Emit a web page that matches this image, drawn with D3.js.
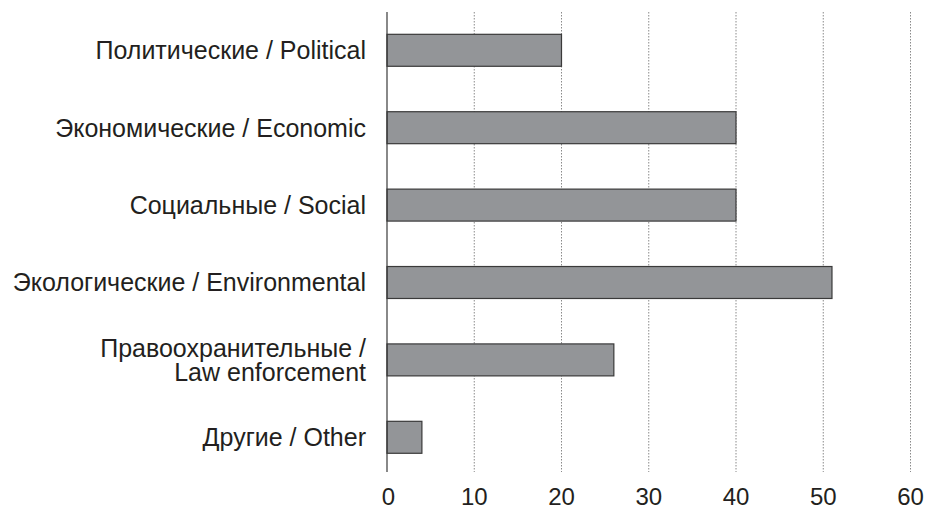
<!DOCTYPE html>
<html>
<head>
<meta charset="utf-8">
<script src="https://cdn.jsdelivr.net/npm/d3@7"></script>
<style>
  html, body { margin: 0; padding: 0; background: #fff; }
  svg { display: block; }
</style>
</head>
<body>
<svg id="chart" width="928" height="505"></svg>
<script>
const categories = [
  ["Политические / Political"],
  ["Экономические / Economic"],
  ["Социальные / Social"],
  ["Экологические / Environmental"],
  ["Правоохранительные /", "Law enforcement"],
  ["Другие / Other"]
];
const values = [20, 40, 40, 51, 26, 4];
const tickValues = [0, 10, 20, 30, 40, 50, 60];

const svg = d3.select("#chart");
const x0 = 387, x1 = 910.5;
const yTop = 12, yBottom = 472;

const x = d3.scaleLinear().domain([0, 60]).range([x0, x1]);
const y = d3.scaleBand().domain(d3.range(categories.length)).range([11.6, 476]).paddingInner(0.587).paddingOuter(0.2935);

// gridlines
svg.append("g").selectAll("line").data(tickValues.slice(1)).join("line")
  .attr("x1", d => x(d)).attr("x2", d => x(d))
  .attr("y1", yTop).attr("y2", yBottom)
  .attr("stroke", "#8a8a8a").attr("stroke-width", 1)
  .attr("stroke-dasharray", "1.5,1.5");

// bars
svg.append("g").selectAll("rect").data(values).join("rect")
  .attr("x", x(0))
  .attr("y", (d, i) => y(i))
  .attr("width", d => x(d) - x(0))
  .attr("height", y.bandwidth())
  .attr("fill", "#939598")
  .attr("stroke", "#3a3a3a")
  .attr("stroke-width", 1.2);

// axis line
svg.append("line")
  .attr("x1", x0).attr("x2", x0).attr("y1", yTop).attr("y2", yBottom)
  .attr("stroke", "#3a3a3a").attr("stroke-width", 1.2);

// x tick labels
svg.append("g").selectAll("text").data(tickValues).join("text")
  .attr("x", d => x(d) + (d === 0 ? 1.5 : 0)).attr("y", 504.5)
  .attr("text-anchor", "middle")
  .attr("font-family", "Liberation Sans, Arial, sans-serif")
  .attr("font-size", 24)
  .attr("fill", "#231f20")
  .text(d => d);

// category labels
const lab = svg.append("g").selectAll("text").data(categories).join("text")
  .attr("text-anchor", "end")
  .attr("font-family", "Liberation Sans, Arial, sans-serif")
  .attr("font-size", 25)
  .attr("fill", "#231f20")
  .attr("transform", (d, i) => `translate(366, ${y(i) + y.bandwidth() / 2})`);
lab.each(function(lines) {
  const t = d3.select(this);
  const n = lines.length;
  lines.forEach((s, k) => {
    t.append("tspan").attr("x", 0)
      .attr("y", (k - (n - 1) / 2) * 23.6 + 8.8)
      .text(s);
  });
});
</script>
</body>
</html>
